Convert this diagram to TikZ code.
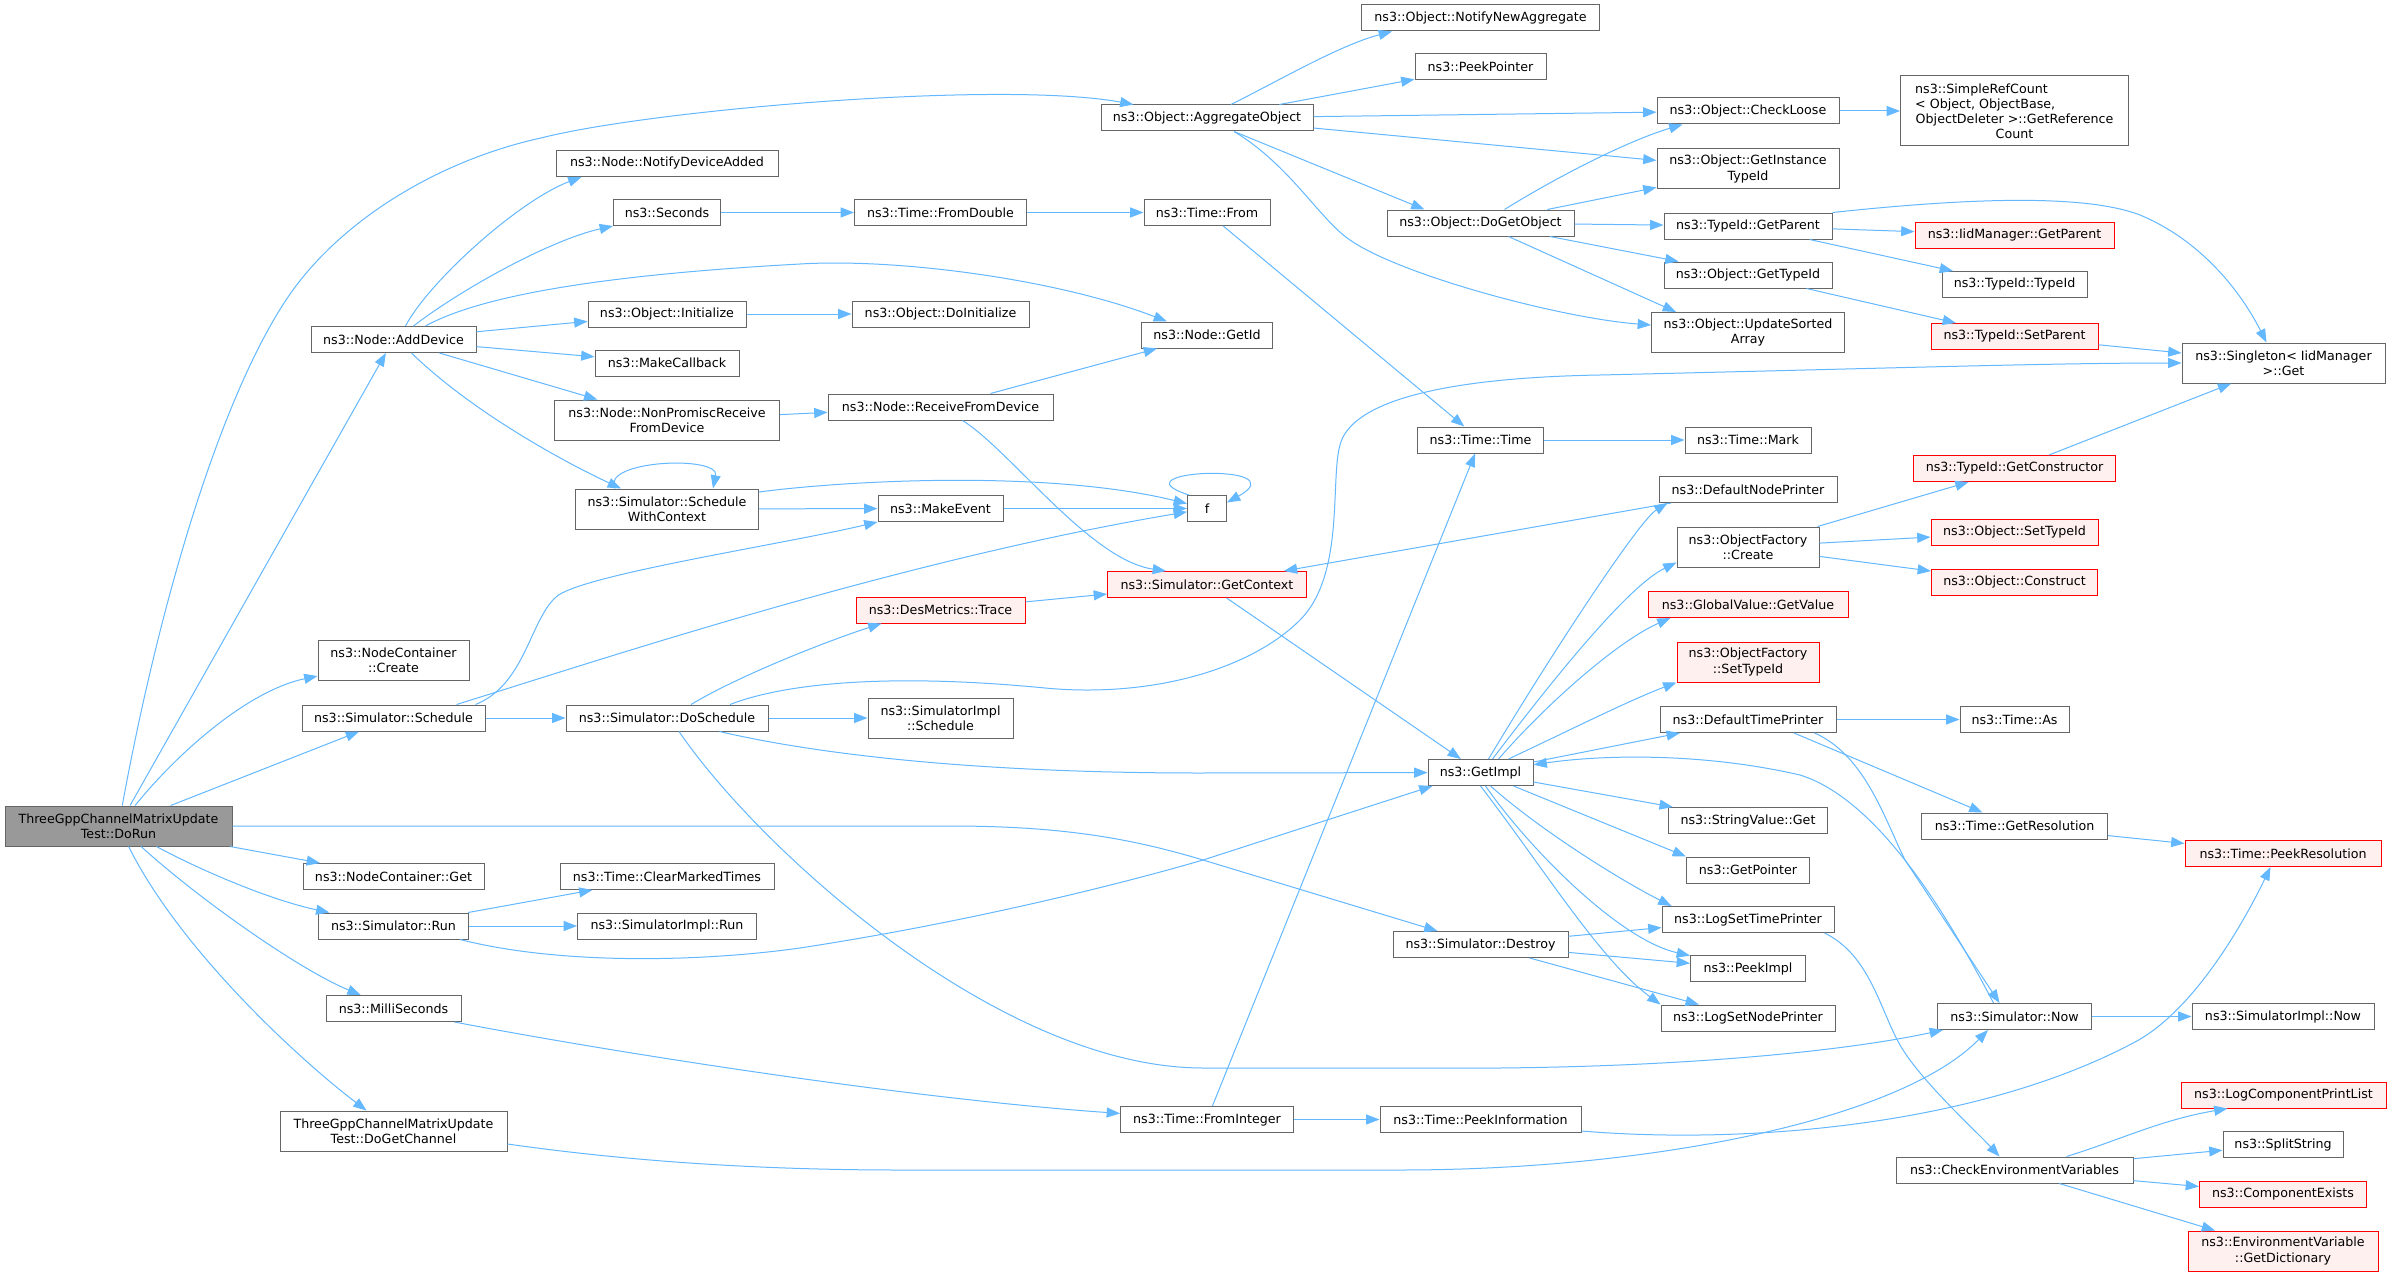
\documentclass[tikz,border=0pt]{standalone}
\usepackage{fontspec}
\setmainfont{DejaVu Sans}
\usetikzlibrary{arrows.meta,calc}
\definecolor{edgeblue}{HTML}{63B8FF}
\definecolor{boxgray}{HTML}{666666}
\definecolor{redfill}{HTML}{FFF0F0}
\definecolor{rootfill}{HTML}{999999}
\begin{document}
\begin{tikzpicture}[x=0.75pt,y=-0.75pt,
  box/.style={draw=boxgray,fill=white,line width=0.75pt,inner sep=0pt,minimum height=19.5pt,align=center,font=\fontsize{9.5}{11.3}\selectfont},
  two/.style={minimum height=30pt},
  wd/.style={minimum width=#1*0.75pt},
  rnode/.style={draw=red,fill=redfill},
  gnode/.style={fill=rootfill},
  cedge/.style={draw=edgeblue,line width=0.75pt,-{Triangle[length=10pt,width=7.5pt]}}
]
\fill[white] (0,0) rectangle (2391,1277);
\useasboundingbox (0,0) rectangle (2391,1277);

% column 1
\node[box,gnode,two,wd=227] (dorun) at (118.5,826) {ThreeGppChannelMatrixUpdate\\Test::DoRun};
% column 2
\node[box,wd=165] (adddevice) at (393.5,339.5) {ns3::Node::AddDevice};
\node[box,two,wd=151] (nccreate) at (393.5,660.5) {ns3::NodeContainer\\::Create};
\node[box,wd=183] (schedule) at (393.5,718) {ns3::Simulator::Schedule};
\node[box,wd=181] (ncget) at (393.5,876.5) {ns3::NodeContainer::Get};
\node[box,wd=150] (simrun) at (393.5,926) {ns3::Simulator::Run};
\node[box,wd=135] (millis) at (393.5,1008.5) {ns3::MilliSeconds};
\node[box,two,wd=227] (dogetchannel) at (393.5,1131) {ThreeGppChannelMatrixUpdate\\Test::DoGetChannel};
% column 3
\node[box,wd=222] (notifydev) at (667,163.5) {ns3::Node::NotifyDeviceAdded};
\node[box,wd=107] (seconds) at (667,212.5) {ns3::Seconds};
\node[box,wd=158] (initialize) at (667,314) {ns3::Object::Initialize};
\node[box,wd=144] (makecallback) at (667,363) {ns3::MakeCallback};
\node[box,two,wd=225] (nonpromisc) at (667,420) {ns3::Node::NonPromiscReceive\\FromDevice};
\node[box,two,wd=183] (schedctx) at (667,509) {ns3::Simulator::Schedule\\WithContext};
\node[box,wd=202] (doschedule) at (667,718) {ns3::Simulator::DoSchedule};
\node[box,wd=214] (clearmarked) at (667,876.5) {ns3::Time::ClearMarkedTimes};
\node[box,wd=179] (simimplrun) at (667,926) {ns3::SimulatorImpl::Run};
% column 4
\node[box,wd=172] (fromdouble) at (940.5,212.5) {ns3::Time::FromDouble};
\node[box,wd=177] (doinit) at (940.5,314) {ns3::Object::DoInitialize};
\node[box,wd=225] (recvfromdev) at (940.5,407) {ns3::Node::ReceiveFromDevice};
\node[box,wd=125] (makeevent) at (940.5,508.5) {ns3::MakeEvent};
\node[box,rnode,wd=169] (trace) at (940.5,610) {ns3::DesMetrics::Trace};
\node[box,two,wd=145] (simimplsched) at (940.5,718) {ns3::SimulatorImpl\\::Schedule};
% column 5
\node[box,wd=212] (aggobj) at (1207,118) {ns3::Object::AggregateObject};
\node[box,wd=126] (timefrom) at (1207,212.5) {ns3::Time::From};
\node[box,wd=131] (getid) at (1207,335) {ns3::Node::GetId};
\node[box,wd=39] (f) at (1207,508.5) {f};
\node[box,rnode,wd=199] (getcontext) at (1207,584.5) {ns3::Simulator::GetContext};
\node[box,wd=173] (frominteger) at (1207,1119.5) {ns3::Time::FromInteger};
% column 6
\node[box,wd=238] (notifynew) at (1480.5,18) {ns3::Object::NotifyNewAggregate};
\node[box,wd=131] (peekpointer) at (1480.5,67) {ns3::PeekPointer};
\node[box,wd=187] (dogetobject) at (1480.5,223) {ns3::Object::DoGetObject};
\node[box,wd=126] (timetime) at (1480.5,440) {ns3::Time::Time};
\node[box,wd=105] (getimpl) at (1480.5,772.5) {ns3::GetImpl};
\node[box,wd=175] (destroy) at (1480.5,944.5) {ns3::Simulator::Destroy};
\node[box,wd=201] (peekinfo) at (1480.5,1119.5) {ns3::Time::PeekInformation};
% column 7
\node[box,wd=182] (checkloose) at (1748,111) {ns3::Object::CheckLoose};
\node[box,two,wd=182] (getinsttypeid) at (1748,169) {ns3::Object::GetInstance\\TypeId};
\node[box,wd=168] (getparent) at (1748,226) {ns3::TypeId::GetParent};
\node[box,wd=168] (gettypeid) at (1748,275) {ns3::Object::GetTypeId};
\node[box,two,wd=193] (updatesorted) at (1748,332.5) {ns3::Object::UpdateSorted\\Array};
\node[box,wd=126] (mark) at (1748,440) {ns3::Time::Mark};
\node[box,wd=178] (defnodeprinter) at (1748,489.5) {ns3::DefaultNodePrinter};
\node[box,two,wd=142] (ofcreate) at (1748,547) {ns3::ObjectFactory\\::Create};
\node[box,rnode,wd=200] (globalvalue) at (1748,604.5) {ns3::GlobalValue::GetValue};
\node[box,rnode,two,wd=142] (ofsettypeid) at (1748,662) {ns3::ObjectFactory\\::SetTypeId};
\node[box,wd=176] (deftimeprinter) at (1748,719.5) {ns3::DefaultTimePrinter};
\node[box,wd=159] (stringvalue) at (1748,820.5) {ns3::StringValue::Get};
\node[box,wd=123] (getpointer) at (1748,870) {ns3::GetPointer};
\node[box,wd=172] (logsettime) at (1748,919.5) {ns3::LogSetTimePrinter};
\node[box,wd=115] (peekimpl) at (1748,968.5) {ns3::PeekImpl};
\node[box,wd=174] (logsetnode) at (1748,1018) {ns3::LogSetNodePrinter};
% column 8
\node[box,wd=228,minimum height=52.5pt] (simplerefcount) at (2014.5,111) {\makebox[149pt][l]{ns3::SimpleRefCount}\\\makebox[149pt][l]{< Object, ObjectBase,}\\ObjectDeleter >::GetReference\\Count};
\node[box,rnode,wd=199] (iidgetparent) at (2014.5,235) {ns3::IidManager::GetParent};
\node[box,wd=145] (typeidtypeid) at (2014.5,284.5) {ns3::TypeId::TypeId};
\node[box,rnode,wd=167] (setparent) at (2014.5,336.5) {ns3::TypeId::SetParent};
\node[box,rnode,wd=202] (getconstructor) at (2014.5,468.5) {ns3::TypeId::GetConstructor};
\node[box,rnode,wd=167] (objsettypeid) at (2014.5,532.5) {ns3::Object::SetTypeId};
\node[box,rnode,wd=166] (construct) at (2014.5,582) {ns3::Object::Construct};
\node[box,wd=109] (timeas) at (2014.5,719.5) {ns3::Time::As};
\node[box,wd=186] (getresolution) at (2014.5,826) {ns3::Time::GetResolution};
\node[box,wd=154] (simnow) at (2014.5,1016.5) {ns3::Simulator::Now};
\node[box,wd=237] (checkenv) at (2014.5,1170) {ns3::CheckEnvironmentVariables};
% column 9
\node[box,two,wd=203] (singleton) at (2283.5,363) {ns3::Singleton< IidManager\\ >::Get};
\node[box,rnode,wd=196] (peekresolution) at (2283,853.5) {ns3::Time::PeekResolution};
\node[box,wd=182] (simimplnow) at (2283,1016.5) {ns3::SimulatorImpl::Now};
\node[box,rnode,wd=205] (logcompprint) at (2283.5,1095) {ns3::LogComponentPrintList};
\node[box,wd=120] (splitstring) at (2283,1144.5) {ns3::SplitString};
\node[box,rnode,wd=167] (componentexists) at (2283,1194) {ns3::ComponentExists};
\node[box,rnode,two,wd=190] (getdictionary) at (2283,1251) {ns3::EnvironmentVariable\\::GetDictionary};

% ---------- edges ----------
% DoRun
\draw[cedge] (dorun) .. controls (160,600) and (220,400) .. (286,300) .. controls (339,220) and (440,160) .. (541,138) .. controls (650,110) and (1000,80) .. (aggobj);
\draw[cedge] (dorun) -- (adddevice);
\draw[cedge] (dorun) .. controls (180,750) and (250,690) .. (nccreate);
\draw[cedge] (dorun) -- (schedule);
\draw[cedge] (dorun.east) -- (950,826) .. controls (1060,826) and (1130,838) .. (1203,860) -- ($(destroy.north west)+(45,0)$);
\draw[cedge] (dorun) -- (ncget);
\draw[cedge] (dorun) .. controls (200,870) and (270,900) .. (simrun);
\draw[cedge] (dorun) .. controls (200,900) and (300,970) .. (millis);
\draw[cedge] (dorun) .. controls (180,950) and (300,1060) .. (dogetchannel);
% AddDevice
\draw[cedge] ($(adddevice.north)+(12,0)$) .. controls (430,280) and (520,200) .. ($(notifydev.south west)+(26,0)$);
\draw[cedge] ($(adddevice.north)+(20,0)$) .. controls (460,290) and (550,240) .. (seconds.south west);
\draw[cedge] ($(adddevice.north)+(32,0)$) .. controls (480,296) and (600,275) .. (800,264) .. controls (900,258) and (1060,280) .. ($(getid.north west)+(26,0)$);
\draw[cedge] (adddevice) -- (initialize);
\draw[cedge] (adddevice) -- (makecallback);
\draw[cedge] (adddevice) -- (nonpromisc);
\draw[cedge] ($(adddevice.south)+(18,0)$) .. controls (470,410) and (560,460) .. ($(schedctx.north west)+(46,0)$);
% chain
\draw[cedge] (seconds) -- (fromdouble);
\draw[cedge] (fromdouble) -- (timefrom);
\draw[cedge] (timefrom) -- (timetime);
\draw[cedge] (initialize) -- (doinit);
\draw[cedge] (nonpromisc) -- (recvfromdev);
\draw[cedge] (recvfromdev) -- (getid);
\draw[cedge] ($(recvfromdev.south)+(22,0)$) .. controls (1010,450) and (1090,560) .. ($(getcontext.north west)+(59,0)$);
% ScheduleWithContext
\draw[cedge] ($(schedctx.north west)+(40,0)$) .. controls (600,460) and (720,455) .. ($(schedctx.north west)+(138,0)$);
\draw[cedge] ($(schedctx.east)+(0,-17)$) .. controls (850,480) and (1050,470) .. (f);
\draw[cedge] (schedctx) -- (makeevent);
\draw[cedge] (makeevent) -- (f);
\draw[cedge] ($(f.north west)+(2,0)$) .. controls (1110,470) and (1300,462) .. ($(f.east)+(0,-6)$);
% Schedule
\draw[cedge] ($(schedule.north east)+(-10,0)$) .. controls (525,685) and (530,620) .. (556,597) .. controls (580,575) and (780,545) .. (makeevent.south west);
\draw[cedge] ($(schedule.north)+(63,0)$) .. controls (600,660) and (900,560) .. (f);
\draw[cedge] (schedule) -- (doschedule);
% DoSchedule
\draw[cedge] ($(doschedule.north)+(24,0)$) .. controls (740,675) and (830,640) .. ($(trace.south west)+(26,0)$);
\draw[cedge] ($(doschedule.north)+(63,0)$) .. controls (780,685) and (880,672) .. (1045,688) .. controls (1150,698) and (1250,670) .. (1300,620) .. controls (1345,575) and (1330,480) .. (1340,445) .. controls (1350,405) and (1430,378) .. (1600,375) .. controls (1900,368) and (2050,363) .. (singleton);
\draw[cedge] (doschedule) -- (simimplsched);
\draw[cedge] ($(doschedule.south east)+(-49,0)$) .. controls (820,755) and (980,773) .. (1200,773) -- (getimpl);
\draw[cedge] ($(doschedule.south)+(12,0)$) .. controls (760,850) and (1000,1068) .. (1203,1068) -- (1500,1068) .. controls (1700,1066) and (1850,1050) .. ($(simnow.south west)+(6,0)$);
% GetContext
\draw[cedge] (trace) -- (getcontext);
\draw[cedge] (getcontext) -- (getimpl);
\draw[cedge] (defnodeprinter) -- (getcontext);
% Run
\draw[cedge] (simrun) -- (clearmarked);
\draw[cedge] (simrun) -- (simimplrun);
\draw[cedge] ($(simrun.south east)+(-9,0)$) .. controls (560,965) and (700,962) .. (800,948) .. controls (950,925) and (1100,890) .. (1203,860) -- ($(getimpl.south west)+(5,0)$);
% MilliSeconds, time
\draw[cedge] ($(millis.south east)+(-7,0)$) .. controls (600,1050) and (900,1098) .. (frominteger);
\draw[cedge] (frominteger) -- (timetime);
\draw[cedge] (frominteger) -- (peekinfo);
\draw[cedge] ($(peekinfo.south east)+(0,-2)$) .. controls (1750,1145) and (1980,1125) .. (2135,1042) .. controls (2195,1010) and (2245,920) .. ($(peekresolution.south west)+(86,0)$);
\draw[cedge] ($(dogetchannel.east)+(0,13)$) .. controls (620,1160) and (750,1170) .. (900,1170) -- (1400,1170) .. controls (1650,1170) and (1900,1120) .. ($(simnow.south west)+(51,0)$);
\draw[cedge] (timetime) -- (mark);
% AggregateObject
\draw[cedge] ($(aggobj.north)+(24,0)$) .. controls (1280,80) and (1340,45) .. ($(notifynew.south west)+(31,0)$);
\draw[cedge] (aggobj) -- (peekpointer);
\draw[cedge] (aggobj) -- (checkloose);
\draw[cedge] (aggobj) -- (getinsttypeid);
\draw[cedge] ($(aggobj.south)+(27,0)$) -- ($(dogetobject.north west)+(38,0)$);
\draw[cedge] ($(aggobj.south)+(27,0)$) .. controls (1290,165) and (1320,220) .. (1350,240) .. controls (1400,275) and (1560,318) .. (updatesorted);
% DoGetObject
\draw[cedge] ($(dogetobject.north)+(24,0)$) .. controls (1560,175) and (1630,140) .. ($(checkloose.south west)+(26,0)$);
\draw[cedge] (dogetobject) -- (getinsttypeid);
\draw[cedge] (dogetobject) -- (getparent);
\draw[cedge] (dogetobject) -- (gettypeid);
\draw[cedge] ($(dogetobject.south)+(28,0)$) -- ($(updatesorted.north west)+(25,0)$);
% TypeId
\draw[cedge] (getparent.north east) .. controls (1950,200) and (2080,192) .. (2140,215) .. controls (2200,240) and (2240,290) .. ($(singleton.north)+(-17,0)$);
\draw[cedge] (getparent) -- (iidgetparent);
\draw[cedge] (getparent) -- (typeidtypeid);
\draw[cedge] (gettypeid) -- (setparent);
\draw[cedge] (setparent) -- (singleton);
\draw[cedge] (getconstructor) -- (singleton);
\draw[cedge] (checkloose) -- (simplerefcount);
% GetImpl
\draw[cedge] ($(getimpl.north)+(8,0)$) .. controls (1560,640) and (1640,520) .. ($(defnodeprinter.south west)+(9,0)$);
\draw[cedge] ($(getimpl.north)+(12,0)$) .. controls (1560,670) and (1630,585) .. ($(ofcreate.south west)+(0,-5)$);
\draw[cedge] ($(getimpl.north)+(18,0)$) .. controls (1550,700) and (1620,640) .. ($(globalvalue.south west)+(23,0)$);
\draw[cedge] ($(getimpl.north)+(28,0)$) .. controls (1570,730) and (1630,700) .. (ofsettypeid.south west);
\draw[cedge] (getimpl) -- (deftimeprinter);
\draw[cedge] (getimpl) -- (stringvalue);
\draw[cedge] (getimpl) -- (getpointer.north west);
\draw[cedge] ($(getimpl.south)+(10,0)$) .. controls (1540,830) and (1620,880) .. ($(logsettime.north west)+(10,0)$);
\draw[cedge] ($(getimpl.south)+(5,0)$) .. controls (1530,850) and (1620,940) .. (peekimpl);
\draw[cedge] (getimpl.south) .. controls (1545,870) and (1600,960) .. (logsetnode.north west);
% Destroy
\draw[cedge] (destroy) -- (logsettime);
\draw[cedge] (destroy) -- (peekimpl);
\draw[cedge] (destroy) -- (logsetnode);
% LogSetTimePrinter
\draw[cedge] ($(logsettime.south east)+(-10,0)$) .. controls (1870,955) and (1880,1010) .. (1900,1045) .. controls (1920,1080) and (1975,1130) .. ($(checkenv.north)+(-15,0)$);
% CheckEnvironmentVariables
\draw[cedge] ($(checkenv.north)+(52,0)$) .. controls (2120,1140) and (2160,1120) .. ($(logcompprint.south west)+(47,0)$);
\draw[cedge] (checkenv) -- (splitstring);
\draw[cedge] (checkenv) -- (componentexists);
\draw[cedge] (checkenv) -- (getdictionary);
% ObjectFactory::Create
\draw[cedge] (ofcreate) -- (getconstructor);
\draw[cedge] (ofcreate) -- (objsettypeid);
\draw[cedge] (ofcreate) -- (construct);
% DefaultTimePrinter
\draw[cedge] (deftimeprinter) -- (timeas);
\draw[cedge] ($(deftimeprinter.south)+(46,0)$) -- (getresolution);
\draw[cedge] ($(deftimeprinter.south east)+(-22,0)$) .. controls (1865,755) and (1885,820) .. (1905,860) -- ($(simnow.north)+(-15,0)$);
\draw[cedge] (getresolution) -- (peekresolution);
\draw[cedge] (simnow) -- (simimplnow);
\draw[cedge] ($(simnow.north)+(-21,0)$) .. controls (1950,920) and (1880,800) .. (1800,775) .. controls (1700,752) and (1600,755) .. (getimpl);
\end{tikzpicture}
\end{document}
